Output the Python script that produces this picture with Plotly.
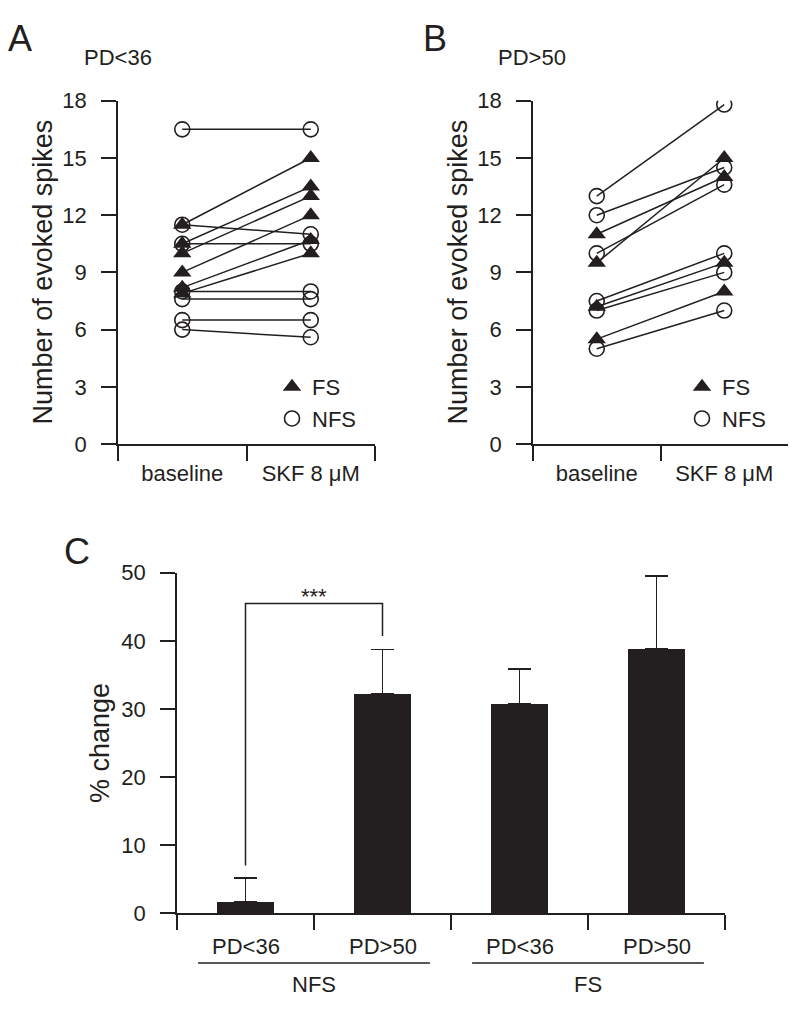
import plotly.graph_objects as go

# ---------------- data ----------------
conditions = ["baseline", "SKF 8 μM"]
spike_ticks = [0, 3, 6, 9, 12, 15, 18]

# Panel A : PD<36
a_title = "PD<36"
a_fs_base = [11.5, 10.5, 10.0, 9.0, 8.2, 7.9]
a_fs_skf = [15.0, 13.5, 13.0, 12.0, 10.7, 10.0]
a_nfs_base = [16.5, 11.5, 10.5, 8.0, 7.6, 6.5, 6.0]
a_nfs_skf = [16.5, 11.0, 10.5, 8.0, 7.6, 6.5, 5.6]

# Panel B : PD>50
b_title = "PD>50"
b_fs_base = [11.0, 9.5, 7.2, 5.5]
b_fs_skf = [14.0, 15.0, 9.5, 8.0]
b_nfs_base = [13.0, 12.0, 10.0, 7.5, 7.0, 5.0]
b_nfs_skf = [17.8, 14.5, 13.6, 10.0, 9.0, 7.0]

# Panel C
c_groups = ["NFS", "FS"]
c_labels = ["PD<36", "PD>50", "PD<36", "PD>50"]
c_means = [1.7, 32.2, 30.8, 38.8]
c_sem = [3.45, 6.5, 5.05, 10.7]
c_ticks = [0, 10, 20, 30, 40, 50]
sig_text = "***"
sig_pair = [0, 1]
sig_top = 45.5
sig_left_bottom = 7.0
sig_right_bottom = 40.7

# ---------------- style ----------------
INK = "#231f20"
FONT = "Liberation Sans, Arial, sans-serif"
W, H = 800, 1012


def px_x(p):
    return p / W


def px_y(p):
    return (H - p) / H


fig = go.Figure()


def add_pairs(base, skf, xa, ya):
    xs, ys = [], []
    for b, s in zip(base, skf):
        xs += [conditions[0], conditions[1], None]
        ys += [b, s, None]
    fig.add_trace(go.Scatter(x=xs, y=ys, mode="lines", xaxis=xa, yaxis=ya,
                             line=dict(color=INK, width=1.5), showlegend=False,
                             hoverinfo="skip"))


def add_markers(base, skf, xa, ya, name, symbol, legend):
    n = len(base)
    if symbol == "circle-open":
        mk = dict(symbol=symbol, size=15, color=INK, line=dict(width=1.6, color=INK))
    else:
        mk = dict(symbol=symbol, size=16, color=INK, line=dict(width=0))
    fig.add_trace(go.Scatter(x=[conditions[0]] * n + [conditions[1]] * n,
                             y=list(base) + list(skf), mode="markers",
                             xaxis=xa, yaxis=ya, name=name, marker=mk,
                             legend=legend, showlegend=True))


add_pairs(a_fs_base, a_fs_skf, "x", "y")
add_pairs(a_nfs_base, a_nfs_skf, "x", "y")
add_markers(a_fs_base, a_fs_skf, "x", "y", "FS", "triangle-up", "legend")
add_markers(a_nfs_base, a_nfs_skf, "x", "y", "NFS", "circle-open", "legend")

add_pairs(b_fs_base, b_fs_skf, "x2", "y2")
add_pairs(b_nfs_base, b_nfs_skf, "x2", "y2")
add_markers(b_fs_base, b_fs_skf, "x2", "y2", "FS", "triangle-up", "legend2")
add_markers(b_nfs_base, b_nfs_skf, "x2", "y2", "NFS", "circle-open", "legend2")

# Panel C bars
c_x = list(range(len(c_means)))
fig.add_trace(go.Bar(x=c_x, y=c_means, width=0.415, xaxis="x3", yaxis="y3",
                     marker=dict(color=INK, line=dict(width=0)),
                     error_y=dict(type="data", symmetric=False, array=c_sem,
                                  arrayminus=[0] * len(c_sem), color=INK,
                                  thickness=1.5, width=11.5),
                     showlegend=False, hoverinfo="skip"))

axis_common = dict(showline=True, linewidth=1.5, linecolor=INK, ticks="outside",
                   ticklen=15, tickwidth=1.5, tickcolor=INK, showgrid=False,
                   zeroline=False, tickfont=dict(family=FONT, size=22, color=INK))

cat_axis = dict(axis_common, type="category", categoryorder="array",
                categoryarray=conditions, range=[-0.5, 1.5], tickson="boundaries",
                ticklabelstandoff=9)
spike_axis = dict(axis_common, range=[0, 18], tickvals=spike_ticks,
                  ticklabelstandoff=10,
                  domain=[px_y(443), px_y(91)])

fig.update_layout(
    width=W, height=H, margin=dict(l=0, r=0, t=0, b=0),
    paper_bgcolor="white", plot_bgcolor="white",
    font=dict(family=FONT, color=INK, size=22),
    xaxis=dict(cat_axis, domain=[px_x(118), px_x(375)], anchor="y"),
    yaxis=dict(spike_axis, anchor="x"),
    xaxis2=dict(cat_axis, domain=[px_x(533), px_x(788)], anchor="y2"),
    yaxis2=dict(spike_axis, anchor="x2"),
    xaxis3=dict(axis_common, domain=[px_x(177), px_x(725)], anchor="y3",
                range=[-0.5, len(c_means) - 0.5],
                tickvals=[i - 0.5 for i in range(len(c_means) + 1)],
                showticklabels=False),
    yaxis3=dict(axis_common, domain=[px_y(924), px_y(575)], anchor="x3",
                range=[0, 50], tickvals=c_ticks, ticklabelstandoff=10),
    legend=dict(x=px_x(272), xanchor="left", y=px_y(363), yanchor="top",
                bgcolor="rgba(0,0,0,0)", font=dict(family=FONT, size=22, color=INK),
                itemsizing="trace", tracegroupgap=0),
    legend2=dict(x=px_x(682), xanchor="left", y=px_y(363), yanchor="top",
                 bgcolor="rgba(0,0,0,0)", font=dict(family=FONT, size=22, color=INK),
                 itemsizing="trace", tracegroupgap=0),
    bargap=0,
)

ann = []
# panel letters and subtitles
for txt, x, y in [("A", 20, 27), ("B", 435, 27), ("C", 77, 553)]:
    ann.append(dict(text=txt, x=px_x(x), y=px_y(y), xref="paper", yref="paper",
                    showarrow=False, xanchor="center", yanchor="middle",
                    font=dict(family=FONT, size=36, color=INK)))
for txt, x in [(a_title, 118), (b_title, 532)]:
    ann.append(dict(text=txt, x=px_x(x), y=px_y(47), xref="paper", yref="paper",
                    showarrow=False, xanchor="center", yanchor="middle",
                    font=dict(family=FONT, size=22, color=INK)))
# y-axis titles
for txt, x, yc in [("Number of evoked spikes", 43, 267),
                   ("Number of evoked spikes", 458, 267),
                   ("% change", 100, 749.5)]:
    ann.append(dict(text=txt, x=px_x(x), y=px_y(yc), xref="paper", yref="paper",
                    showarrow=False, textangle=-90, xanchor="center",
                    yanchor="middle", font=dict(family=FONT, size=27, color=INK)))
# panel C category labels
for i, lab in enumerate(c_labels):
    ann.append(dict(text=lab, x=i, y=px_y(958), xref="x3", yref="paper",
                    showarrow=False, xanchor="center", yanchor="middle",
                    font=dict(family=FONT, size=22, color=INK)))
shapes = []
for g, name in enumerate(c_groups):
    center = 2 * g + 0.5
    ann.append(dict(text=name, x=center, y=px_y(997), xref="x3", yref="paper",
                    showarrow=False, xanchor="center", yanchor="middle",
                    font=dict(family=FONT, size=22, color=INK)))
    shapes.append(dict(type="line", xref="x3", yref="paper",
                       x0=center - 0.846, x1=center + 0.846,
                       y0=px_y(975), y1=px_y(975),
                       line=dict(color=INK, width=1.5)))
# significance bracket
x0, x1 = sig_pair
shapes.append(dict(type="path", xref="x3", yref="y3",
                   path=f"M {x0},{sig_left_bottom} L {x0},{sig_top} L {x1},{sig_top} L {x1},{sig_right_bottom}",
                   line=dict(color=INK, width=1.5)))
ann.append(dict(text=sig_text, x=(x0 + x1) / 2, y=sig_top, xref="x3", yref="y3",
                showarrow=False, xanchor="center", yanchor="bottom", yshift=-8,
                font=dict(family=FONT, size=22, color=INK)))

fig.update_layout(annotations=ann, shapes=shapes)
fig.write_html("out.html", config={"displayModeBar": False},
               post_script="document.body.style.margin='0';document.body.style.overflow='hidden';")
